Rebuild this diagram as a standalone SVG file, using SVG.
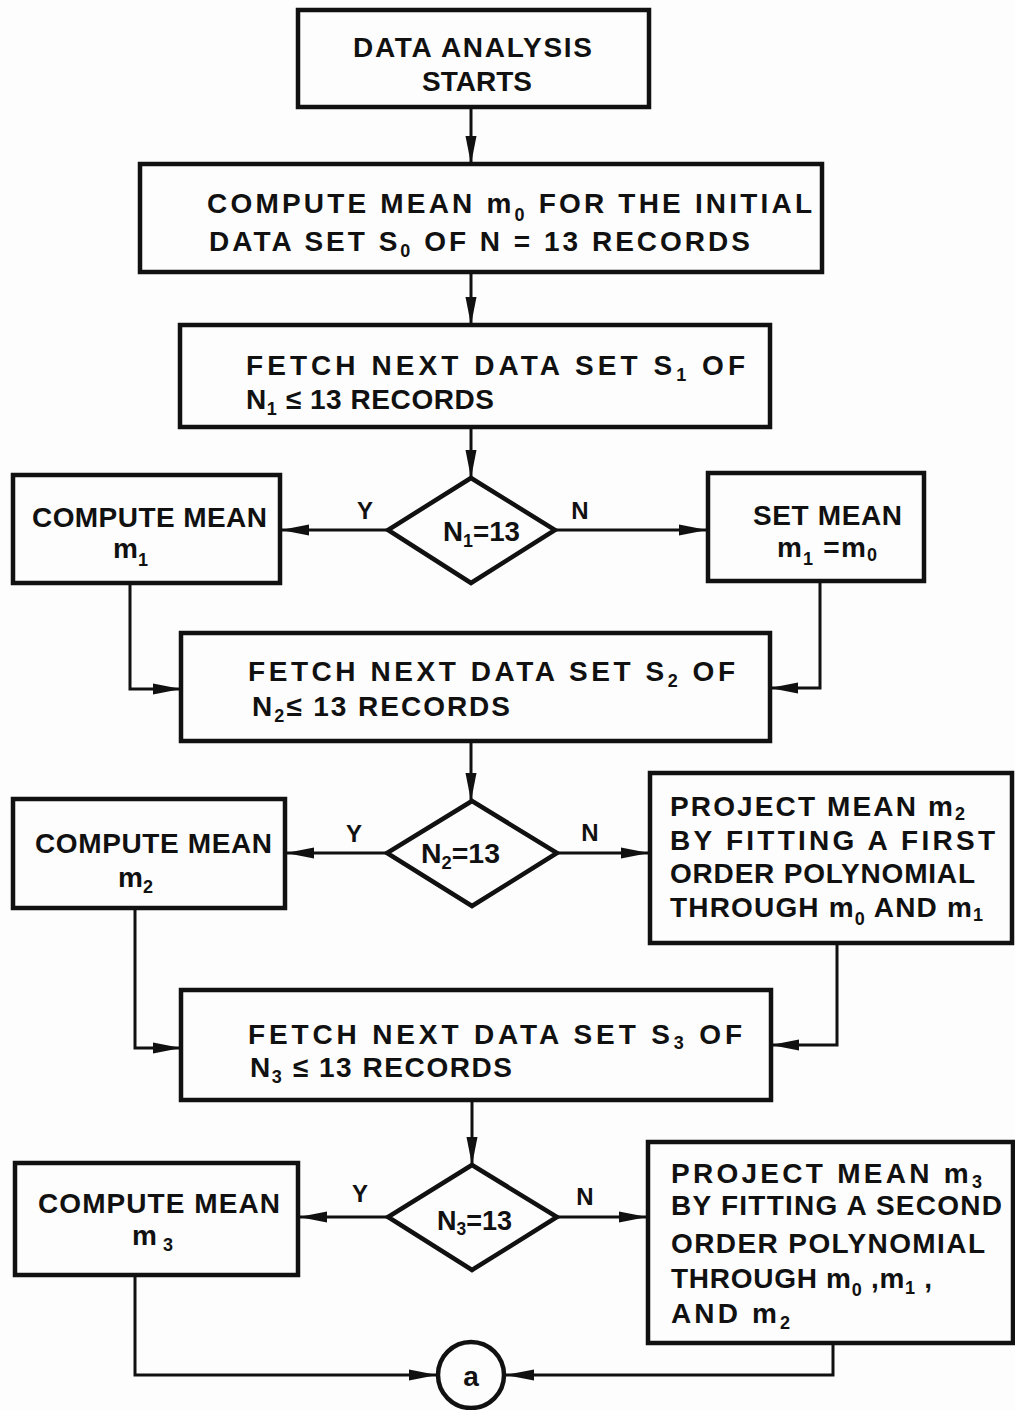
<svg xmlns="http://www.w3.org/2000/svg" width="1015" height="1410" viewBox="0 0 1015 1410">
  <defs>
    <marker id="ah" markerUnits="userSpaceOnUse" markerWidth="30" markerHeight="14" refX="28" refY="7" orient="auto">
      <path d="M0,1.5 L28,7 L0,12.5 Z" fill="#111"/>
    </marker>
    <style>
      .box { fill: none; stroke: #111; stroke-width: 4.5; }
      .dia { fill: none; stroke: #111; stroke-width: 4.5; stroke-linejoin: miter; }
      .con { fill: none; stroke: #111; stroke-width: 3; marker-end: url(#ah); }
      text { font-family: "Liberation Sans", Arial, sans-serif; font-weight: bold; font-size: 28px; fill: #111; }
      .lbl { font-size: 24px; text-anchor: middle; }
      .sub { font-size: 18px; }
    </style>
  </defs>
  <rect width="1015" height="1410" fill="#fdfdfd"/>

  <!-- connectors -->
  <g id="connectors">
    <path class="con" d="M471,108 V164"/>
    <path class="con" d="M471,272 V325"/>
    <path class="con" d="M471,427 V478"/>
    <path class="con" d="M388,530 H281"/>
    <path class="con" d="M555,530 H707"/>
    <path class="con" d="M130,583 V689 H181"/>
    <path class="con" d="M820,581 V688 H770"/>
    <path class="con" d="M471,741 V801"/>
    <path class="con" d="M387,853 H286"/>
    <path class="con" d="M557,853 H649"/>
    <path class="con" d="M135,908 V1048 H181"/>
    <path class="con" d="M837,943 V1045 H771"/>
    <path class="con" d="M472,1100 V1165"/>
    <path class="con" d="M388,1217 H299"/>
    <path class="con" d="M557,1217 H647"/>
    <path class="con" d="M135,1275 V1375 H437"/>
    <path class="con" d="M833,1343 V1375 H506"/>
    <text class="lbl" x="365" y="519">Y</text>
    <text class="lbl" x="580" y="519">N</text>
    <text class="lbl" x="354" y="842">Y</text>
    <text class="lbl" x="590" y="841">N</text>
    <text class="lbl" x="360" y="1202">Y</text>
    <text class="lbl" x="585" y="1205">N</text>
  </g>

  <g id="start">
    <rect class="box" x="298" y="10" width="351" height="97"/>
    <text x="353" y="57" textLength="239" lengthAdjust="spacing">DATA ANALYSIS</text>
    <text x="422" y="91" textLength="110" lengthAdjust="spacing">STARTS</text>
  </g>

  <g id="compute-m0">
    <rect class="box" x="140" y="164" width="682" height="108"/>
    <text x="207" y="213" textLength="605" lengthAdjust="spacing">COMPUTE MEAN m<tspan class="sub" dy="8">0</tspan><tspan dy="-8"> FOR THE INITIAL</tspan></text>
    <text x="209" y="251" textLength="541" lengthAdjust="spacing">DATA SET S<tspan class="sub" dy="6">0</tspan><tspan dy="-6"> OF N = 13 RECORDS</tspan></text>
  </g>

  <g id="fetch-s1">
    <rect class="box" x="180" y="325" width="590" height="102"/>
    <text x="246" y="375" textLength="499" lengthAdjust="spacing">FETCH NEXT DATA SET S<tspan class="sub" dy="6">1</tspan><tspan dy="-6"> OF</tspan></text>
    <text x="246" y="409" textLength="248" lengthAdjust="spacing">N<tspan class="sub" dy="6">1</tspan><tspan dy="-6"> ≤ 13 RECORDS</tspan></text>
  </g>

  <g id="test-n1">
    <polygon class="dia" points="471,478 555,530 471,583 388,530"/>
    <text x="443" y="541" textLength="77" lengthAdjust="spacingAndGlyphs">N<tspan class="sub" dy="6">1</tspan><tspan dy="-6">=13</tspan></text>
  </g>

  <g id="compute-m1">
    <rect class="box" x="13" y="475" width="267" height="108"/>
    <text x="32" y="527" textLength="235" lengthAdjust="spacing">COMPUTE MEAN</text>
    <text x="113" y="558">m<tspan class="sub" dy="8">1</tspan></text>
  </g>

  <g id="set-m1">
    <rect class="box" x="708" y="473" width="216" height="108"/>
    <text x="753" y="525" textLength="149" lengthAdjust="spacing">SET MEAN</text>
    <text x="777" y="557" textLength="100" lengthAdjust="spacing">m<tspan class="sub" dy="8">1</tspan><tspan dy="-8"> =m</tspan><tspan class="sub" dy="4">0</tspan></text>
  </g>

  <g id="fetch-s2">
    <rect class="box" x="181" y="633" width="589" height="108"/>
    <text x="248" y="681" textLength="487" lengthAdjust="spacing">FETCH NEXT DATA SET S<tspan class="sub" dy="6">2</tspan><tspan dy="-6"> OF</tspan></text>
    <text x="252" y="716" textLength="258" lengthAdjust="spacing">N<tspan class="sub" dy="6">2</tspan><tspan dy="-6">≤ 13 RECORDS</tspan></text>
  </g>

  <g id="test-n2">
    <polygon class="dia" points="472,801 557,853 472,906 387,853"/>
    <text x="421" y="863" textLength="79" lengthAdjust="spacingAndGlyphs">N<tspan class="sub" dy="6">2</tspan><tspan dy="-6">=13</tspan></text>
  </g>

  <g id="compute-m2">
    <rect class="box" x="13" y="799" width="272" height="109"/>
    <text x="35" y="853" textLength="237" lengthAdjust="spacing">COMPUTE MEAN</text>
    <text x="118" y="887">m<tspan class="sub" dy="6">2</tspan></text>
  </g>

  <g id="project-m2">
    <rect class="box" x="650" y="773" width="362" height="170"/>
    <text x="670" y="816" textLength="295" lengthAdjust="spacing">PROJECT MEAN m<tspan class="sub" dy="4">2</tspan></text>
    <text x="670" y="850" textLength="325" lengthAdjust="spacing">BY FITTING A FIRST</text>
    <text x="670" y="883" textLength="305" lengthAdjust="spacing">ORDER POLYNOMIAL</text>
    <text x="670" y="917" textLength="313" lengthAdjust="spacing">THROUGH m<tspan class="sub" dy="8">0</tspan><tspan dy="-8"> AND m</tspan><tspan class="sub" dy="4">1</tspan></text>
  </g>

  <g id="fetch-s3">
    <rect class="box" x="181" y="990" width="590" height="110"/>
    <text x="248" y="1044" textLength="494" lengthAdjust="spacing">FETCH NEXT DATA SET S<tspan class="sub" dy="5">3</tspan><tspan dy="-5"> OF</tspan></text>
    <text x="250" y="1077" textLength="262" lengthAdjust="spacing">N<tspan class="sub" dy="6">3</tspan><tspan dy="-6"> ≤ 13 RECORDS</tspan></text>
  </g>

  <g id="test-n3">
    <polygon class="dia" points="472,1165 557,1217 472,1270 388,1217"/>
    <text x="437" y="1230" textLength="75" lengthAdjust="spacingAndGlyphs">N<tspan class="sub" dy="5">3</tspan><tspan dy="-5">=13</tspan></text>
  </g>

  <g id="compute-m3">
    <rect class="box" x="15" y="1163" width="283" height="112"/>
    <text x="38" y="1213" textLength="242" lengthAdjust="spacing">COMPUTE MEAN</text>
    <text x="132" y="1245" textLength="41" lengthAdjust="spacing">m<tspan class="sub" dy="6">3</tspan></text>
  </g>

  <g id="project-m3">
    <rect class="box" x="648" y="1142" width="365" height="201"/>
    <text x="671" y="1183" textLength="311" lengthAdjust="spacing">PROJECT MEAN m<tspan class="sub" dy="5">3</tspan></text>
    <text x="671" y="1215" textLength="331" lengthAdjust="spacing">BY FITTING A SECOND</text>
    <text x="671" y="1253" textLength="314" lengthAdjust="spacing">ORDER POLYNOMIAL</text>
    <text x="671" y="1288" textLength="261" lengthAdjust="spacing">THROUGH m<tspan class="sub" dy="8">0</tspan><tspan dy="-8"> ,m</tspan><tspan class="sub" dy="6">1</tspan><tspan dy="-6"> ,</tspan></text>
    <text x="671" y="1323" textLength="119" lengthAdjust="spacing">AND m<tspan class="sub" dy="6">2</tspan></text>
  </g>

  <g id="connector-a">
    <circle cx="471" cy="1375" r="33" fill="none" stroke="#111" stroke-width="4.5"/>
    <text x="471" y="1386" text-anchor="middle" font-size="30">a</text>
  </g>
</svg>
